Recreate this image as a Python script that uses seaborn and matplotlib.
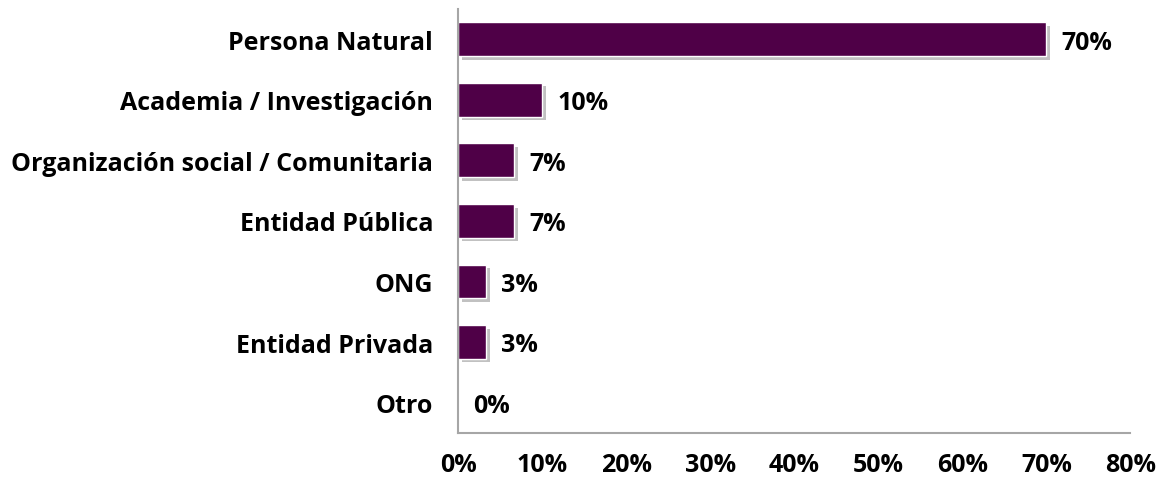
import matplotlib
matplotlib.use('Agg')
import matplotlib.pyplot as plt
import matplotlib.patheffects as pe
import seaborn as sns
import pandas as pd

# Data
categories = ['Persona Natural', 'Academia / Investigación',
              'Organización social / Comunitaria', 'Entidad Pública',
              'ONG', 'Entidad Privada', 'Otro']
values = [70.0, 10.0, 6.67, 6.67, 3.33, 3.33, 0.0]
value_labels = ['70%', '10%', '7%', '7%', '3%', '3%', '0%']
x_ticks = [0, 10, 20, 30, 40, 50, 60, 70, 80]

df = pd.DataFrame({'Categoria': categories, 'Porcentaje': values})

sns.set_style('white')
plt.rcParams['font.family'] = ['Open Sans', 'DejaVu Sans']
plt.rcParams['font.weight'] = 'bold'
plt.rcParams['text.color'] = 'black'
plt.rcParams['xtick.color'] = 'black'
plt.rcParams['ytick.color'] = 'black'

fig = plt.figure(figsize=(11.57, 4.81), dpi=100)
ax = fig.add_axes([0.396, 0.098, 0.581, 0.881])

sns.barplot(data=df, x='Porcentaje', y='Categoria', orient='h',
            color='#4F0047', saturation=1, width=0.56, ax=ax)

# subtle drop shadow like the original
for bar in ax.patches:
    bar.set_path_effects([pe.SimplePatchShadow(offset=(2.5, -2.5), shadow_rgbFace='#777777', alpha=0.45),
                          pe.Normal()])

for i, (v, lab) in enumerate(zip(values, value_labels)):
    ax.annotate(lab, xy=(v, i), xytext=(11, -2), textcoords='offset points',
                va='center', ha='left', fontsize=18, fontweight='bold', color='black')

ax.set_xlim(0, 80)
ax.set_xticks(x_ticks)
ax.set_xticklabels([f'{t}%' for t in x_ticks], fontsize=18, fontweight='bold')
ax.tick_params(axis='y', labelsize=18, pad=18, length=0)
ax.tick_params(axis='x', pad=14, length=0)
for lab in ax.get_yticklabels():
    lab.set_fontweight('bold')
ax.set_xlabel('')
ax.set_ylabel('')

for side in ['top', 'right']:
    ax.spines[side].set_visible(False)
for side in ['left', 'bottom']:
    ax.spines[side].set_color('#A6A6A6')
    ax.spines[side].set_linewidth(1.5)

fig.savefig('out.png', dpi=100)
